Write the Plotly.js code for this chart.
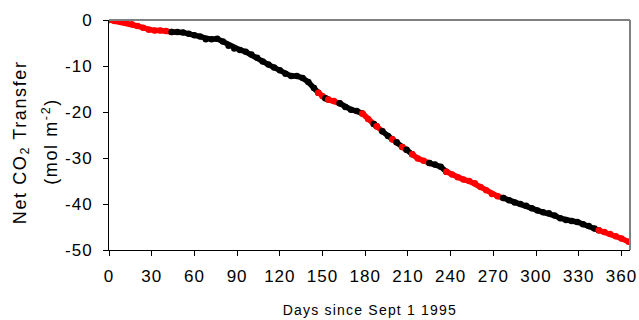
<!DOCTYPE html>
<html>
<head>
<meta charset="utf-8">
<script src="https://cdn.plot.ly/plotly-3.0.1.min.js"></script>
<style>
  html, body { margin: 0; padding: 0; background: #fff; }
  #chart { width: 639px; height: 320px; }
  #chart .xtick text, #chart .ytick text { letter-spacing: 1px; }
  #chart .annotation-text.ytitle-a { letter-spacing: 1.6px; }
</style>
</head>
<body>
<div id="chart"></div>
<script>
// Days since Sept 1 1995
const days = [0,4,8,12,16,20,24,28,32,36,40,44,48,52,56,60,64,68,72,76,80,84,88,92,96,100,104,108,112,116,120,124,128,132,136,140,144,147,150,152,154,158,162,166,170,174,178,182,186,188,192,196,199,202,206,209,213,217,221,225,229,233,237,241,245,249,253,257,261,265,269,273,277,281,285,289,293,297,301,305,309,313,317,321,325,329,333,337,341,344,348,352,356,360,365];
// Net CO2 transfer (mol m^-2)
const co2 = [0,-0.2,-0.4,-0.6,-0.9,-1.3,-1.7,-2.1,-2.3,-2.3,-2.4,-2.6,-2.6,-2.7,-3.0,-3.3,-3.6,-4.2,-4.2,-4.1,-4.7,-5.6,-6.2,-6.5,-6.9,-7.5,-8.2,-9.0,-9.7,-10.3,-10.9,-11.7,-12.2,-12.2,-12.6,-13.5,-14.8,-15.8,-16.6,-17.0,-17.3,-17.6,-18.1,-18.9,-19.5,-19.8,-20.3,-21.5,-22.6,-23.1,-24.2,-25.2,-25.9,-26.6,-27.6,-28.2,-29.2,-30.1,-30.6,-31.1,-31.4,-31.9,-33.0,-33.6,-34.2,-34.7,-35.0,-35.5,-36.3,-37.0,-37.8,-38.3,-38.7,-39.2,-39.7,-40.0,-40.4,-40.9,-41.4,-41.8,-42.0,-42.5,-43.1,-43.5,-43.7,-43.9,-44.4,-44.8,-45.3,-45.7,-46.1,-46.5,-47.0,-47.5,-48.2];
// segment colour group per point: r = red, k = black
const group = ['r','r','r','r','r','r','r','r','r','r','r','k','k','k','k','k','k','k','k','k','k','k','k','k','k','k','k','k','k','k','k','k','k','k','k','k','k','r','r','k','r','r','k','k','k','k','r','r','k','r','k','k','r','k','r','k','r','r','r','k','k','k','r','r','r','r','r','r','r','r','r','r','k','k','k','k','k','k','k','k','k','k','k','k','k','k','k','k','k','r','r','r','r','r','r'];
const xTicks = [0,30,60,90,120,150,180,210,240,270,300,330,360];
const yTicks = [0,-10,-20,-30,-40,-50];

const colorMap = { r: '#ff0000', k: '#000000' };

// build runs of same-colour segments
const traces = [];
let start = 0;
for (let i = 1; i <= days.length; i++) {
  if (i === days.length || group[i] !== group[start]) {
    const end = Math.min(i, days.length - 1);
    traces.push({
      x: days.slice(start, end + 1), y: co2.slice(start, end + 1),
      type: 'scatter', mode: 'lines+markers',
      line: { color: colorMap[group[start]], width: 5.5 },
      marker: { color: colorMap[group[start]], size: 6.5 },
      hoverinfo: 'skip', showlegend: false
    });
    start = i;
  }
}

const font = 'Liberation Sans, Arial, sans-serif';
const layout = {
  width: 639, height: 320,
  margin: { l: 109, r: 9, t: 20, b: 70 },
  paper_bgcolor: '#ffffff', plot_bgcolor: '#ffffff',
  font: { family: font, color: '#000' },
  xaxis: {
    range: [0, 366], tickvals: xTicks, ticktext: xTicks.map(String),
    showgrid: false, zeroline: false, showline: true, linecolor: '#000', linewidth: 1,
    ticks: 'outside', ticklen: 5, tickcolor: '#000', tickwidth: 1,
    ticklabelstandoff: 6,
    tickfont: { size: 17, family: font }
  },
  yaxis: {
    range: [-50, 0], tickvals: yTicks, ticktext: yTicks.map(String),
    showgrid: false, zeroline: false, showline: true, linecolor: '#000', linewidth: 1,
    ticks: 'outside', ticklen: 5, tickcolor: '#000', tickwidth: 1,
    ticklabelstandoff: 7,
    tickfont: { size: 17, family: font }
  },
  shapes: [
    { type: 'line', xref: 'paper', yref: 'paper', x0: 0, x1: 1, y0: 1, y1: 1, line: { color: '#808080', width: 2 } },
    { type: 'line', xref: 'paper', yref: 'paper', x0: 1, x1: 1, y0: 0, y1: 1, line: { color: '#808080', width: 2 } }
  ],
  annotations: [
    { text: 'Net CO<sub>2</sub> Transfer', xref: 'paper', yref: 'paper', x: -0.168, y: 0.47,
      xanchor: 'center', yanchor: 'middle', textangle: -90, showarrow: false, font: { size: 18, family: font } },
    { text: '(mol m<sup>-2</sup>)', xref: 'paper', yref: 'paper', x: -0.112, y: 0.47,
      xanchor: 'center', yanchor: 'middle', textangle: -90, showarrow: false, font: { size: 18, family: font } },
    { text: 'Days since Sept 1 1995', xref: 'paper', yref: 'paper', x: 0.5, y: -0.262,
      xanchor: 'center', yanchor: 'middle', showarrow: false, font: { size: 14, family: font } }
  ]
};

Plotly.newPlot('chart', traces, layout, { staticPlot: true, displayModeBar: false }).then(function () {
  const anns = document.querySelectorAll('#chart .annotation-text');
  anns.forEach(function (t, i) {
    t.style.letterSpacing = (i < 2) ? '1.6px' : '1.2px';
  });
});
</script>
</body>
</html>
